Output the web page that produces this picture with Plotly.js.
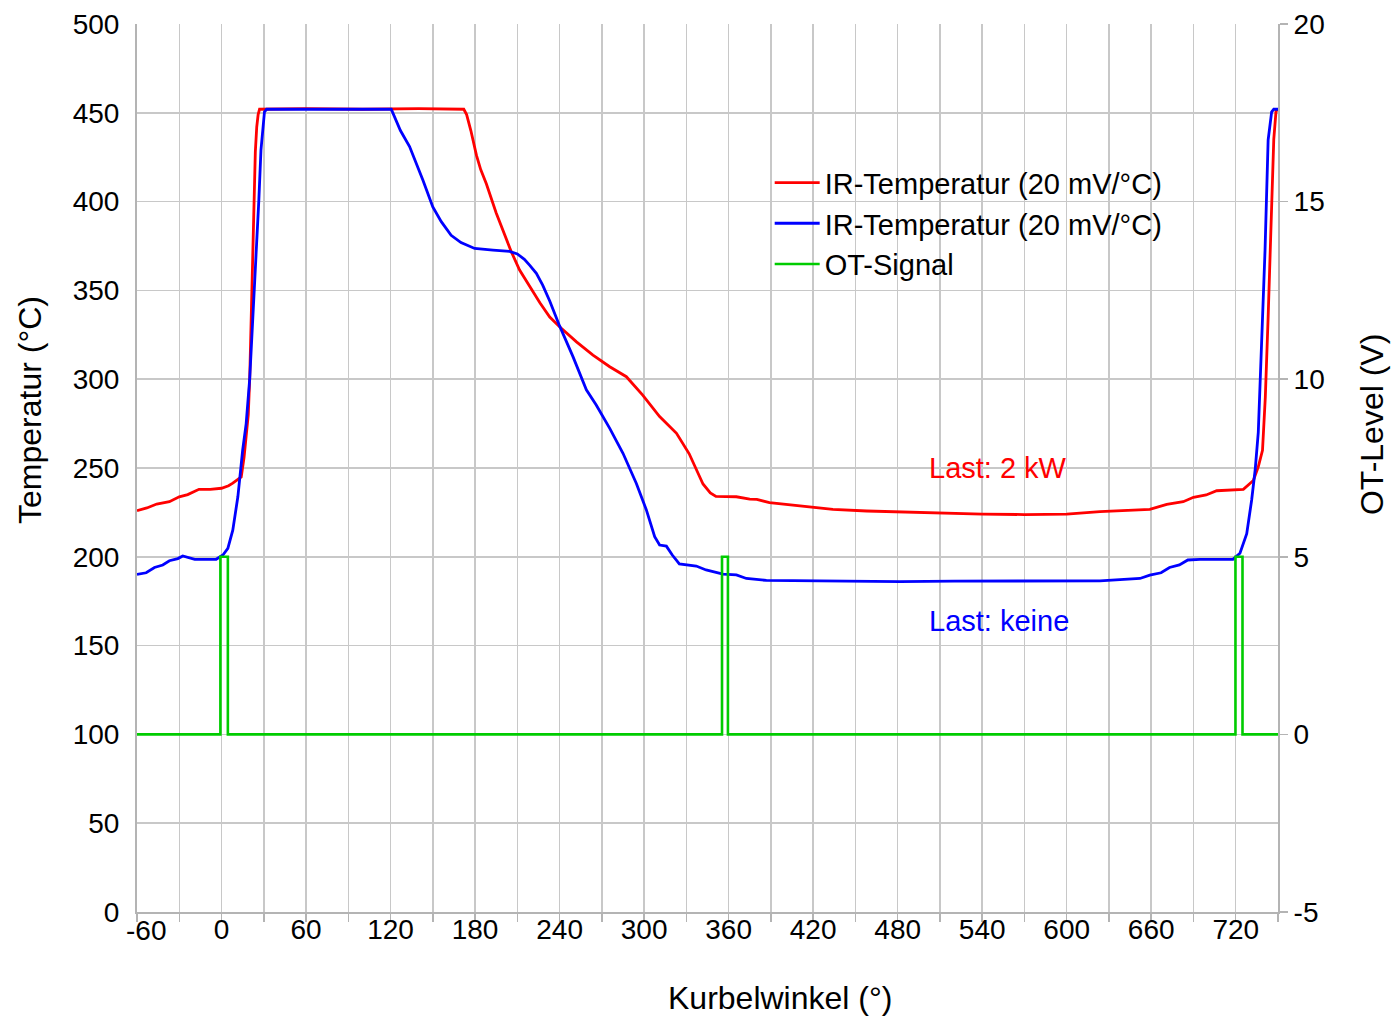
<!DOCTYPE html>
<html>
<head>
<meta charset="utf-8">
<script src="https://cdn.plot.ly/plotly-3.0.1.min.js"></script>
<style>html,body{margin:0;padding:0;background:#fff;}#chart{width:1391px;height:1019px;}</style>
</head>
<body>
<div id="chart"></div>
<script>
// Red: IR-Temperatur, Last 2 kW (°C vs Kurbelwinkel °)
var redAngle = [-60,-53,-46,-37,-30,-24,-16,-8,0,5,8,11,14,16,18,19,20,21,22,23,24,25,26,27,60,100,140,172,174,177,181,184,188,195,205.7,211.6,218.8,226,233,240,252,263.7,275.6,287.4,299,311,323,332,341.8,347,351,365.5,375,380,389,405.7,422,434,458,481.5,510,540,570,600,623.6,659,671,682.7,690,699,706.5,725.4,732.5,736,739,741,743,745,747,748.6,750];
var redTemp  = [226,227.5,229.7,231,233.8,235,238,238,238.6,240,241.5,243,245,256,270,280,300,335,370,405,428,442,449,452,452.3,452,452.3,452,449,440,426,418,410,393.6,371.8,361.5,352,343,335,329.5,321,313.6,307,301.4,291,279,269.5,258,241,236,234,233.8,232.5,232.3,230.5,229,227.8,226.7,225.8,225.2,224.5,224,223.8,224,225.4,226.7,229.5,231,233.5,234.8,237.2,238,243,250.7,260,290,335,390,435,451,452];

// Blue: IR-Temperatur, Last keine
var blueAngle = [-60,-53.5,-47.6,-41.7,-37,-31,-27.5,-23,-19,-10,-3.8,1,4.5,8,11.6,15,17.5,20,22,24,26.5,28,30.5,32,60,90,119,120.5,127,133.5,143,150,156,163,170,179.7,192.7,204.5,210,215,219,223.5,228,233,240,249.5,259,266,275.6,285,294.5,301.6,307.5,311,315.8,320,325,337,344,350,356,365.5,372.6,386.8,410.5,450,481.5,520,560,600,623.6,652,659,667,673,680,686,694.6,718,723,727.8,731.3,733.8,736,738,740.8,743,745.5,747,750];
var blueTemp  = [190.1,191,194,195.4,197.8,199,200.5,199.5,198.6,198.6,198.6,201,204.7,215,233.8,260,275,300,330,362,401,429,450.6,452,452,452.3,452,452,440,431,412,397,388.7,381,376.9,373.6,372.7,372,370.5,367.5,364,359.6,353,344,330,312.7,294,285.5,272.3,258.3,241.3,226.4,211.3,206.6,206,201,196,194.8,192.6,191.5,190.3,189.8,187.8,186.7,186.5,186.2,186,186.3,186.5,186.5,186.5,187.8,189.7,191,194,195.4,198.2,198.6,198.6,202,213,232,249,270,310,372.7,434.7,450.6,452,452];

// Green: OT-Signal (V) pulses
var otStart = [-60];
var otEnd = [750];
var otPulseOn  = [-0.8, 355.3, 719.8];
var otPulseOff = [4.5, 359.5, 724.8];
var otLow = 0, otHigh = 5;

var seriesNames = ['IR-Temperatur (20 mV/°C)', 'IR-Temperatur (20 mV/°C)', 'OT-Signal'];
var annoTexts = ['Last: 2 kW', 'Last: keine'];
var annoAngle = [551, 552];
var annoTemp = [250, 164];

// Tick labels
var xTickVals = [-60, 0, 60, 120, 180, 240, 300, 360, 420, 480, 540, 600, 660, 720];
var xTickText = ['-60', '0', '60', '120', '180', '240', '300', '360', '420', '480', '540', '600', '660', '720'];
var y2TickVals = [-5, 0, 5, 10, 15, 20];
var y2TickText = ['-5', '0', '5', '10', '15', '20'];
var axisTitles = ['Kurbelwinkel (°)', 'Temperatur (°C)', 'OT-Level (V)'];

var otX = [otStart[0]], otY = [otLow];
for (var i = 0; i < otPulseOn.length; i++) {
  otX.push(otPulseOn[i], otPulseOn[i], otPulseOff[i], otPulseOff[i]);
  otY.push(otLow, otHigh, otHigh, otLow);
}
otX.push(otEnd[0]); otY.push(otLow);

// The first x label sits just right of the axis corner (as in the reference), drawn as an annotation at its tick value
var axisTickText = xTickText.map(function (t, i) { return i === 0 ? '' : t; });

var FONT = 'Liberation Sans, Arial, sans-serif';
var gridC = '#c8c8c8';
var axisC = '#b4b4b4';

var traces = [
  {x: redAngle, y: redTemp, type: 'scatter', mode: 'lines', name: seriesNames[0], line: {color: '#ff0000', width: 2.8}},
  {x: blueAngle, y: blueTemp, type: 'scatter', mode: 'lines', name: seriesNames[1], line: {color: '#0000ff', width: 2.8}},
  {x: otX, y: otY, type: 'scatter', mode: 'lines', name: seriesNames[2], yaxis: 'y2', line: {color: '#00cc00', width: 2.6}}
];

var layout = {
  width: 1391, height: 1019,
  margin: {l: 137, r: 113, t: 24, b: 107},
  paper_bgcolor: '#fff', plot_bgcolor: '#fff',
  font: {family: FONT, size: 28, color: '#000'},
  showlegend: true,
  legend: {x: 0.5545, y: 0.85, xanchor: 'left', yanchor: 'top', bgcolor: 'rgba(0,0,0,0)', font: {size: 29, family: FONT}, tracegroupgap: 0, itemwidth: 45},
  xaxis: {
    range: [-60, 750], tickmode: 'array', tickvals: xTickVals, ticktext: axisTickText,
    showgrid: true, gridcolor: gridC, gridwidth: 1.5,
    ticks: 'outside', ticklen: 8, tickcolor: axisC, tickwidth: 1.5,
    minor: {tickmode: 'linear', dtick: 30, tick0: -60, showgrid: true, gridcolor: gridC, gridwidth: 1.5, ticks: 'outside', ticklen: 8, tickcolor: axisC, tickwidth: 1.5},
    showline: true, linecolor: axisC, linewidth: 2, zeroline: false,
    tickfont: {size: 28, family: FONT}, ticklabelstandoff: -17
  },
  yaxis: {
    range: [0, 500], dtick: 50, showgrid: true, gridcolor: gridC, gridwidth: 1.5,
    ticks: '', showline: true, linecolor: axisC, linewidth: 2, zeroline: false,
    tickfont: {size: 28, family: FONT}, ticklabelstandoff: 10
  },
  yaxis2: {
    range: [-5, 20], tickmode: 'array', tickvals: y2TickVals, ticktext: y2TickText,
    overlaying: 'y', side: 'right', showgrid: false,
    ticks: 'outside', ticklen: 8, tickcolor: axisC, tickwidth: 1.5,
    showline: true, linecolor: axisC, linewidth: 2, zeroline: false,
    tickfont: {size: 28, family: FONT}
  },
  annotations: [
    {x: annoAngle[0], y: annoTemp[0], xref: 'x', yref: 'y', text: annoTexts[0], showarrow: false, font: {color: '#ff0000', size: 29, family: FONT}},
    {x: annoAngle[1], y: annoTemp[1], xref: 'x', yref: 'y', text: annoTexts[1], showarrow: false, font: {color: '#0000ff', size: 29, family: FONT}},
    {x: xTickVals[0], y: 0, xref: 'x', yref: 'paper', xanchor: 'left', yanchor: 'top', xshift: -13, yshift: -1, text: xTickText[0], showarrow: false, font: {size: 28, family: FONT}},
    {x: 0.5636, y: -0.0968, xref: 'paper', yref: 'paper', xanchor: 'center', yanchor: 'middle', text: axisTitles[0], showarrow: false, font: {size: 32, family: FONT}},
    {x: -0.0938, y: 0.5653, xref: 'paper', yref: 'paper', xanchor: 'center', yanchor: 'middle', textangle: -90, text: axisTitles[1], showarrow: false, font: {size: 32, family: FONT}},
    {x: 1.0824, y: 0.5484, xref: 'paper', yref: 'paper', xanchor: 'center', yanchor: 'middle', textangle: -90, text: axisTitles[2], showarrow: false, font: {size: 32, family: FONT}}
  ]
};

Plotly.newPlot('chart', traces, layout, {staticPlot: true, displayModeBar: false});
</script>
</body>
</html>
